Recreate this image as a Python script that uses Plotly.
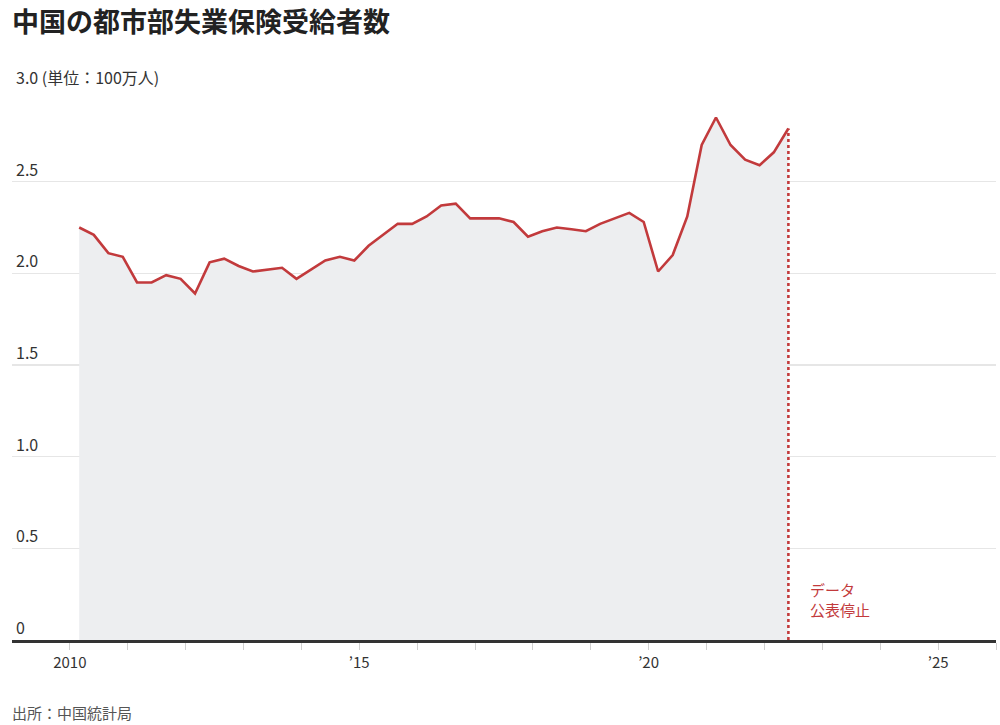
import pandas as pd
import plotly.graph_objects as go

# Quarterly data (millions of people)
dates = pd.date_range("2010-03-01", periods=50, freq="3MS")
values = [2.25, 2.21, 2.11, 2.09, 1.95, 1.95, 1.99, 1.97, 1.89, 2.06,
          2.08, 2.04, 2.01, 2.02, 2.03, 1.97, 2.02, 2.07, 2.09, 2.07,
          2.15, 2.21, 2.27, 2.27, 2.31, 2.37, 2.38, 2.30, 2.30, 2.30,
          2.28, 2.20, 2.23, 2.25, 2.24, 2.23, 2.27, 2.30, 2.33, 2.28,
          2.01, 2.10, 2.31, 2.70, 2.85, 2.70, 2.62, 2.59, 2.66, 2.79]

y_ticks = [0, 0.5, 1.0, 1.5, 2.0, 2.5, 3.0]
y_tick_labels = ["0", "0.5", "1.0", "1.5", "2.0", "2.5", "3.0 (単位：100万人)"]

x_years = list(range(2010, 2027))
x_label_map = {2010: "2010", 2015: "’15", 2020: "’20", 2025: "’25"}

title = "中国の都市部失業保険受給者数"
note = "データ<br>公表停止"
source = "出所：中国統計局"

FONT = "Noto Sans CJK JP"
RED = "#c23a3c"

W, H = 1000, 725
ML, MR, MT, MB = 12, 4, 90, 85
PLOT_W = W - ML - MR
PLOT_H = H - MT - MB

fig = go.Figure()

fig.add_trace(go.Scatter(
    x=dates, y=values, mode="lines",
    line=dict(color=RED, width=2.6),
    fill="tozeroy", fillcolor="#edeef0",
    hoverinfo="skip", showlegend=False,
))

# dotted line marking end of published data
fig.add_trace(go.Scatter(
    x=[dates[-1], dates[-1]], y=[0, values[-1]], mode="lines",
    line=dict(color=RED, width=2.6, dash="dot"),
    hoverinfo="skip", showlegend=False,
))

annotations = []
for v, lab in zip(y_ticks, y_tick_labels):
    annotations.append(dict(
        x=0, xref="paper", y=v, yref="y", text=lab, showarrow=False,
        xanchor="left", yanchor="bottom", xshift=2, yshift=-1,
        font=dict(family=FONT, size=16, color="#333333"),
    ))

annotations.append(dict(
    x=dates[-1], xref="x", y=0.22, yref="y", text=note, showarrow=False,
    xanchor="left", yanchor="middle", xshift=20, align="left",
    font=dict(family=FONT, size=15, color=RED),
))

# title (page y ~ 21 center)
annotations.append(dict(
    x=(10 - ML) / PLOT_W, xref="paper",
    y=1 + (MT - 21) / PLOT_H, yref="paper",
    text="<b>" + title + "</b>", showarrow=False,
    xanchor="left", yanchor="middle",
    font=dict(family=FONT, size=27, color="#222222"),
))

annotations.append(dict(
    x=(10 - ML) / PLOT_W, xref="paper",
    y=-(712 - (H - MB)) / PLOT_H, yref="paper", text=source,
    showarrow=False, xanchor="left", yanchor="middle",
    font=dict(family=FONT, size=15, color="#555555"),
))

fig.update_layout(
    width=W, height=H,
    margin=dict(l=ML, r=MR, t=MT, b=MB, autoexpand=False),
    paper_bgcolor="white", plot_bgcolor="white",
    font=dict(family=FONT, color="#333333"),
    annotations=annotations,
    xaxis=dict(
        type="date",
        range=["2009-01-01", "2026-01-01"],
        tickvals=[f"{y}-01-01" for y in x_years],
        ticktext=[x_label_map.get(y, "") for y in x_years],
        ticks="outside", ticklen=7, tickcolor="#d0d0d0", tickwidth=1,
        showgrid=False, zeroline=False,
        showline=True, linecolor="#333333", linewidth=2.5,
        tickfont=dict(family=FONT, size=15, color="#333333"),
        fixedrange=True,
    ),
    yaxis=dict(
        range=[0, 3.0], tickvals=y_ticks, showticklabels=False,
        showgrid=True, gridcolor="#e6e6e6", gridwidth=1.2,
        zeroline=False, showline=False, fixedrange=True,
    ),
)

fig.write_html(
    "out.html",
    config={"displayModeBar": False, "staticPlot": True},
    post_script="document.body.style.margin='0';document.body.style.overflow='hidden';",
)
